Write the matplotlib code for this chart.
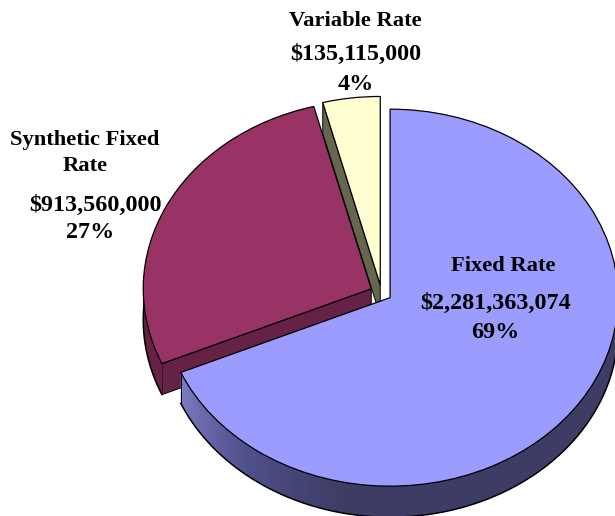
import numpy as np
import matplotlib
matplotlib.use('Agg')
import matplotlib.pyplot as plt
from matplotlib.colors import LinearSegmentedColormap

# debt mix, dollars
categories = ['Fixed Rate', 'Synthetic Fixed Rate', 'Variable Rate']
amounts = [2281363074, 913560000, 135115000]
label_text = ['Fixed Rate', '$2,281,363,074', '69%',
              'Synthetic Fixed', 'Rate', '$913,560,000', '27%',
              'Variable Rate', '$135,115,000', '4%']

# layout
W, H = 615, 516
CX, CY = 381.5, 293
RX, RY = 228.0, 188.5
DEPTH = 31 / RY
explode = [0.045, 0.05, 0.043]
top_colors = ['#9C9CFF', '#993366', '#FFFFD2']
label_x = [503, 496, 495, 85, 85, 95, 90, 355, 356, 356]
label_y = [266, 303, 332, 140, 166, 205, 232, 21, 54, 84]
label_size = [16.2, 17.4, 17.4, 16.2, 16.2, 17.4, 17.4, 16.2, 17.4, 17.4]

fig = plt.figure(figsize=(W / 100, H / 100), dpi=100)
ax = fig.add_axes([0, 0, 1, 1])
wedges, _ = ax.pie(amounts, explode=explode, colors=top_colors, startangle=90, counterclock=False,
                   radius=1, wedgeprops=dict(edgecolor='black', linewidth=0.9))
ax.set_aspect('auto')
ax.set_xlim(-CX / RX, (W - CX) / RX)
ax.set_ylim(-(H - CY) / RY, CY / RY)
ax.axis('off')

def rim(w, angles):
    a = np.radians(angles)
    return w.center[0] + w.r * np.cos(a), w.center[1] + w.r * np.sin(a)

def cut_face(w, angle, color, z):
    """ Flat side of a slice, going down from the straight edge at this angle """
    x, y = rim(w, np.array([angle]))
    xs = [w.center[0], x[0], x[0], w.center[0]]
    ys = [w.center[1], y[0], y[0] - DEPTH, w.center[1] - DEPTH]
    ax.fill(xs, ys, facecolor=color, edgecolor='black', linewidth=0.7, zorder=z)

def curved_side(w, a1, a2, color_at, z):
    """ Curved side of a slice, overlapping strips so no seams show between them """
    angles = np.append(np.arange(a1, a2, 1.0), a2)
    for left, right in zip(angles[:-1], angles[1:]):
        strip = np.linspace(left, min(right + 1.5, a2), 4)
        x, y = rim(w, strip)
        ax.fill(np.r_[x, x[::-1]], np.r_[y, y[::-1] - DEPTH], facecolor=color_at((left + right) / 2),
                edgecolor='none', zorder=z)
    x, y = rim(w, angles)
    ax.plot(x, y - DEPTH, color='black', linewidth=1.1, zorder=z + 0.1)

fixed, synthetic, variable = wedges

# variable slice: only the flat left side shows
cut_face(variable, variable.theta2, '#666650', 1)

# synthetic slice, pie angles run negative here since it goes clockwise
cut_face(synthetic, synthetic.theta2, '#662244', 2)
curved_side(synthetic, -188, synthetic.theta2, lambda a: '#662244', 2)

# fixed slice, shading from lit left to dark bottom right
shade = LinearSegmentedColormap.from_list('side', ['#7C7CC4', '#50508A', '#3C3C64'])
curved_side(fixed, fixed.theta1, 12, lambda a: shade(min((a - fixed.theta1) / 55.0, 1.0)), 4)
x0, y0 = rim(fixed, np.array([fixed.theta1]))
ax.plot([x0[0], x0[0]], [y0[0], y0[0] - DEPTH], color='black', linewidth=0.7, zorder=4.1)

variable.set_zorder(3)
synthetic.set_zorder(3)
fixed.set_zorder(5)

for txt, x, y, s in zip(label_text, label_x, label_y, label_size):
    fig.text(x / W, 1 - y / H, txt, ha='center', va='center', fontsize=s, fontweight='bold',
             family='Liberation Serif', color='black')

fig.savefig('out.png', dpi=100, facecolor='white')
